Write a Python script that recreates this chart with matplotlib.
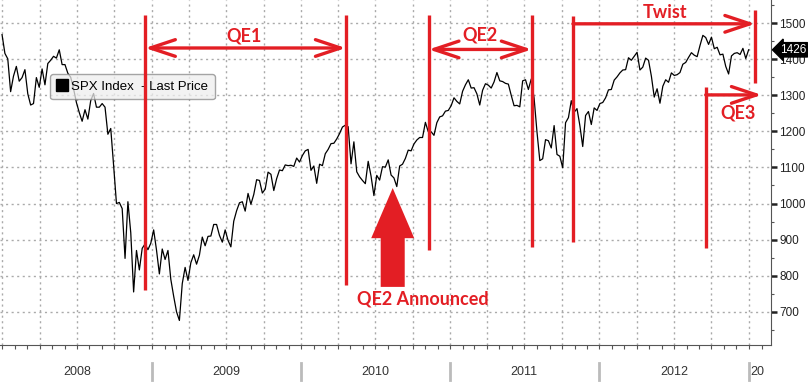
import pandas as pd
import matplotlib
matplotlib.use("Agg")
import matplotlib.pyplot as plt
import matplotlib.dates as mdates
import matplotlib.ticker as mticker
import matplotlib.transforms as mtransforms
from matplotlib.lines import Line2D
from matplotlib.patches import Polygon

# ============================================================
# === Data: SPX weekly closes (Mondays)
# ============================================================

spx_2008 = [
    1468, 1416, 1401, 1310, 1353, 1380, 1339, 1349, 1371, 1304, 1273, 1277, 1349,
    1322, 1373, 1329, 1388, 1397, 1408, 1403, 1426, 1385, 1385, 1361, 1350, 1318,
    1280, 1252, 1228, 1260, 1234, 1285, 1305, 1267, 1267, 1277, 1267, 1192, 1208,
    1106, 1000, 1003, 986, 848, 1005, 919, 755, 870, 816, 876, 888, 872, 890,
]
spx_2009 = [
    927, 871, 805, 874, 845, 870, 790, 743, 700, 676, 778, 823, 787,
    836, 858, 832, 857, 907, 883, 909, 910, 942, 942, 912, 893, 927,
    898, 880, 951, 980, 1002, 1005, 979, 1028, 998, 1025, 1066, 1064, 1029,
    1040, 1087, 1081, 1036, 1069, 1093, 1091, 1107, 1105, 1106, 1103, 1126, 1115,
]
spx_2010 = [
    1133, 1146, 1150, 1092, 1104, 1056, 1109, 1105, 1138, 1150, 1166, 1167, 1179,
    1194, 1212, 1217, 1213, 1110, 1171, 1088, 1074, 1064, 1055, 1117, 1076, 1022,
    1078, 1065, 1102, 1101, 1121, 1079, 1071, 1047, 1104, 1109, 1125, 1148, 1146,
    1165, 1176, 1183, 1183, 1225, 1199, 1199, 1189, 1224, 1240, 1243, 1256, 1258,
]
spx_2011 = [
    1271, 1293, 1283, 1276, 1311, 1329, 1343, 1320, 1321, 1304, 1273, 1314, 1332,
    1328, 1320, 1337, 1363, 1340, 1338, 1333, 1331, 1300, 1271, 1272, 1268, 1340,
    1343, 1316, 1345, 1292, 1199, 1119, 1124, 1177, 1174, 1154, 1216, 1136, 1131,
    1099, 1224, 1238, 1285, 1253, 1263, 1216, 1158, 1244, 1255, 1219, 1265, 1258,
]
spx_2012 = [
    1277, 1280, 1293, 1315, 1316, 1342, 1351, 1362, 1370, 1371, 1404, 1397, 1408,
    1419, 1370, 1378, 1403, 1397, 1353, 1295, 1318, 1278, 1325, 1343, 1336, 1362,
    1355, 1357, 1363, 1386, 1391, 1405, 1418, 1411, 1407, 1438, 1466, 1460, 1441,
    1461, 1429, 1433, 1412, 1414, 1380, 1359, 1409, 1416, 1418, 1413, 1430, 1402, 1426,
]

spx = spx_2008 + spx_2009 + spx_2010 + spx_2011 + spx_2012
weeks = pd.date_range("2007-12-31", periods=len(spx), freq="7D")
last_price = 1426

year_labels = ["2008", "2009", "2010", "2011", "2012"]

RED = "#e31e24"
GRID = "#aaaaaa"


def d(s):
    return mdates.date2num(pd.Timestamp(s))


# ============================================================
# === Figure / axes
# ============================================================

fig = plt.figure(figsize=(8.08, 3.83), dpi=100)
ax = fig.add_axes([0, 38 / 383, 770.7 / 808, 345 / 383])

ax.plot(weeks, spx, color="black", linewidth=0.9, zorder=3)

ax.set_xlim(d("2007-12-26"), d("2013-02-23"))
ax.set_ylim(608, 1564)

# axes styling
for side in ("top", "left"):
    ax.spines[side].set_visible(False)
ax.spines["bottom"].set_color("#555555")
ax.spines["right"].set_color("#555555")

ax.yaxis.tick_right()
ax.yaxis.set_minor_locator(mticker.MultipleLocator(50))
ax.set_yticks([700, 800, 900, 1000, 1100, 1200, 1300, 1400, 1500])
ax.tick_params(axis="y", which="major", length=4.5, width=1.8, color="#222222",
               labelsize=8.5, pad=1.5, labelcolor="#222222")
ax.tick_params(axis="y", which="minor", length=2.5, width=0.8, color="#555555")
for lbl in ax.get_yticklabels():
    lbl.set_family("Liberation Sans")

ax.xaxis.set_major_locator(mdates.MonthLocator(bymonth=[1, 4, 7, 10]))
ax.xaxis.set_minor_locator(mdates.MonthLocator())
ax.tick_params(axis="x", which="both", length=3, width=0.8, color="#555555",
               labelbottom=False)

ax.grid(True, which="major", color=GRID, linestyle=(0, (1.5, 2.5)), linewidth=1)

# year labels under the axis
xt = mtransforms.blended_transform_factory(ax.transData, ax.transAxes)
for yr in year_labels:
    ax.text(d(f"{yr}-07-01"), -0.078, yr, transform=xt, ha="center", va="center",
            fontsize=9, color="#333333", family="Liberation Sans")
for yr in range(2009, 2014):
    ax.add_line(Line2D([d(f"{yr}-01-01")] * 2, [-0.052, -0.101], transform=xt,
                       color="#bbbbbb", linewidth=2, clip_on=False))
ax.text(d("2013-01-05"), -0.078, "20", transform=xt, ha="left", va="center",
        fontsize=9, color="#333333", family="Liberation Sans")

# legend
handle = Line2D([], [], color="black", marker="s", markersize=8, linestyle="none")
leg = ax.legend([handle], ["SPX Index  - Last Price"], loc="upper left",
                bbox_to_anchor=(50 / 770.7, 1 - 74 / 345), borderaxespad=0,
                prop={"family": "Liberation Sans", "size": 9.5},
                handlelength=0.8, handletextpad=0.3, borderpad=0.5,
                fancybox=True, framealpha=0.75, facecolor="#eeeeee",
                edgecolor="#888888")
leg.set_zorder(4)

# last price tag
yt = mtransforms.blended_transform_factory(ax.transAxes, ax.transData)
ax.text(1.012, last_price, f"{last_price}", transform=yt, ha="left", va="center",
        color="white", fontsize=8.5, family="Liberation Sans", clip_on=False,
        bbox=dict(boxstyle="larrow,pad=0.1", fc="black", ec="black"), zorder=6)

# ============================================================
# === Red QE annotations
# ============================================================

lw_red = 2.4
ann_font = dict(color=RED, fontsize=13, fontweight="bold", family="Lato",
                ha="center", va="center")
head_style = "head_length=1.8,head_width=0.6"

# QE1
ax.vlines(d("2008-12-15"), 760, 1523, color=RED, linewidth=lw_red, zorder=5)
ax.vlines(d("2010-04-20"), 774, 1523, color=RED, linewidth=lw_red, zorder=5)
ax.annotate("", xy=(d("2008-12-15"), 1431), xytext=(d("2010-04-20"), 1431),
            arrowprops=dict(arrowstyle="<->," + head_style,
                            color=RED, lw=lw_red, shrinkA=0, shrinkB=0,
                            mutation_scale=10), zorder=5)
ax.text(d("2009-08-15"), 1465, "QE1", **ann_font)

# QE2
ax.vlines(d("2010-11-09"), 871, 1523, color=RED, linewidth=lw_red, zorder=5)
ax.vlines(d("2011-07-19"), 879, 1523, color=RED, linewidth=lw_red, zorder=5)
ax.annotate("", xy=(d("2010-11-09"), 1427), xytext=(d("2011-07-19"), 1427),
            arrowprops=dict(arrowstyle="<->," + head_style,
                            color=RED, lw=lw_red, shrinkA=0, shrinkB=0,
                            mutation_scale=10), zorder=5)
ax.text(d("2011-03-15"), 1468, "QE2", **ann_font)

# Twist
ax.vlines(d("2011-10-28"), 894, 1520, color=RED, linewidth=lw_red, zorder=5)
ax.vlines(d("2013-01-16"), 1334, 1537, color=RED, linewidth=lw_red, zorder=5)
ax.annotate("", xy=(d("2013-01-16"), 1498), xytext=(d("2011-10-28"), 1498),
            arrowprops=dict(arrowstyle="->," + head_style,
                            color=RED, lw=lw_red, shrinkA=0, shrinkB=0,
                            mutation_scale=10), zorder=5)
ax.text(d("2012-06-10"), 1529, "Twist", **ann_font)

# QE3
ax.vlines(d("2012-09-17"), 877, 1323, color=RED, linewidth=lw_red, zorder=5)
ax.annotate("", xy=(d("2013-02-01"), 1301), xytext=(d("2012-09-17"), 1301),
            arrowprops=dict(arrowstyle="->," + head_style,
                            color=RED, lw=lw_red, shrinkA=0, shrinkB=0,
                            mutation_scale=10), zorder=5)
ax.text(d("2012-12-05"), 1251, "QE3", **ann_font)

# big "QE2 Announced" arrow
cx = d("2010-08-13")
shaft, head = 29.4, 52.6
arrow_pts = [
    (cx - shaft, 769), (cx - shaft, 904), (cx - head, 904), (cx, 1043),
    (cx + head, 904), (cx + shaft, 904), (cx + shaft, 769),
]
ax.add_patch(Polygon(arrow_pts, closed=True, facecolor=RED, edgecolor="none", zorder=5))
ax.text(d("2010-10-25"), 735, "QE2 Announced", **ann_font)

fig.savefig("out.png", dpi=100)
